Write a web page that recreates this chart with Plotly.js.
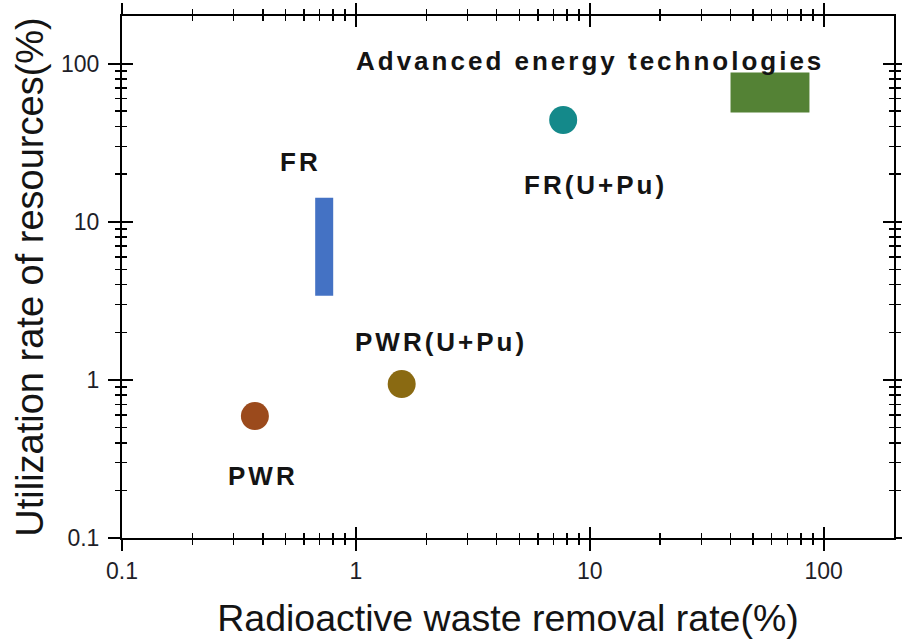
<!DOCTYPE html>
<html>
<head>
<meta charset="utf-8">
<script src="https://cdn.plot.ly/plotly-3.0.1.min.js"></script>
<style>
  html, body { margin: 0; padding: 0; background: #fff; }
  #chart { width: 902px; height: 640px; }
  .annotation-text { letter-spacing: 3px; }
</style>
</head>
<body>
<div id="chart"></div>
<script>
// Reactor technologies: radioactive waste removal rate vs. resource utilization (both in %)
const pointNames   = ['PWR', 'PWR(U+Pu)', 'FR(U+Pu)'];
const pointWaste   = [0.37, 1.57, 7.7];
const pointUse     = [0.59, 0.94, 44];
const pointColors  = ['#9b4a1c', '#8a6a12', '#14898a'];

// Ranges drawn as filled boxes: [x min, x max], [y min, y max]
const frWaste  = [0.67, 0.80];
const frUse    = [3.4, 14.2];
const advWaste = [40, 87];
const advUse   = [49, 88];

const majorVals = [0.1, 1, 10, 100];
const majorText = ['0.1', '1', '10', '100'];
const minorVals = [0.2, 0.3, 0.4, 0.5, 0.6, 0.7, 0.8, 0.9,
                   2, 3, 4, 5, 6, 7, 8, 9,
                   20, 30, 40, 50, 60, 70, 80, 90];

const textColor = '#141414';
const font = 'Liberation Sans, Arial, sans-serif';

function boxTrace(xr, yr, color, name) {
  return {
    type: 'scatter', mode: 'lines', name: name,
    x: [xr[0], xr[1], xr[1], xr[0], xr[0]],
    y: [yr[0], yr[0], yr[1], yr[1], yr[0]],
    fill: 'toself', fillcolor: color,
    line: { width: 0, color: color },
    hoverinfo: 'skip', showlegend: false
  };
}

const traces = [
  boxTrace(frWaste, frUse, '#4472c4', 'FR'),
  boxTrace(advWaste, advUse, '#548235', 'Advanced energy technologies'),
  {
    type: 'scatter', mode: 'markers',
    x: pointWaste, y: pointUse, text: pointNames,
    marker: { size: 28, color: pointColors, line: { width: 0 } },
    showlegend: false
  },
  // carrier for the inward-tick overlay axes
  { type: 'scatter', mode: 'markers', x: [], y: [], xaxis: 'x2', yaxis: 'y2', showlegend: false, hoverinfo: 'skip' }
];

const logRange = [Math.log10(0.1), Math.log10(200)];

function axisBase(ticks, len, minorLen) {
  return {
    type: 'log', range: logRange,
    showline: true, linecolor: '#000', linewidth: 2,
    mirror: 'allticks', ticks: ticks, ticklen: len, tickwidth: 2, tickcolor: '#000',
    tickmode: 'array', tickvals: majorVals, ticktext: majorText,
    showgrid: false, zeroline: false,
    minor: { ticks: ticks, tickmode: 'array', tickvals: minorVals, ticklen: minorLen, tickwidth: 1.5, tickcolor: '#000', showgrid: false },
    tickfont: { family: font, size: 23, color: '#1e1e28' }
  };
}

const xaxis = Object.assign(axisBase('outside', 11, 5), {
  title: { text: 'Radioactive waste removal rate(%)', font: { family: font, size: 37.5, color: textColor }, standoff: 22 },
  automargin: false
});
const yaxis = Object.assign(axisBase('outside', 12, 5), {
  title: { text: 'Utilization rate of resources(%)', font: { family: font, size: 38, color: textColor }, standoff: 6 },
  ticklabelstandoff: 4,
  automargin: false
});
const xaxis2 = Object.assign(axisBase('inside', 11, 5), {
  overlaying: 'x', matches: 'x', anchor: 'y2', showticklabels: false
});
const yaxis2 = Object.assign(axisBase('inside', 11, 5), {
  overlaying: 'y', matches: 'y', anchor: 'x2', showticklabels: false
});

function label(text, cx, cy) {
  // cx, cy: centre of the label in plot-area pixels
  return {
    xref: 'paper', yref: 'paper',
    x: (cx - 122) / 772, y: (538 - cy) / 522,
    xanchor: 'center', yanchor: 'middle',
    text: text, showarrow: false,
    font: { family: font, size: 26, color: textColor, weight: 'bold' }
  };
}

const layout = {
  width: 902, height: 640,
  margin: { l: 122, r: 8, t: 16, b: 102 },
  paper_bgcolor: '#fff', plot_bgcolor: '#fff',
  showlegend: false,
  xaxis: xaxis, yaxis: yaxis, xaxis2: xaxis2, yaxis2: yaxis2,
  annotations: [
    label('Advanced energy technologies', 590, 61),
    label('FR', 300, 162),
    label('FR(U+Pu)', 595, 185),
    label('PWR(U+Pu)', 441, 342),
    label('PWR', 263, 476)
  ]
};

Plotly.newPlot('chart', traces, layout, { displayModeBar: false, staticPlot: true });
</script>
</body>
</html>
